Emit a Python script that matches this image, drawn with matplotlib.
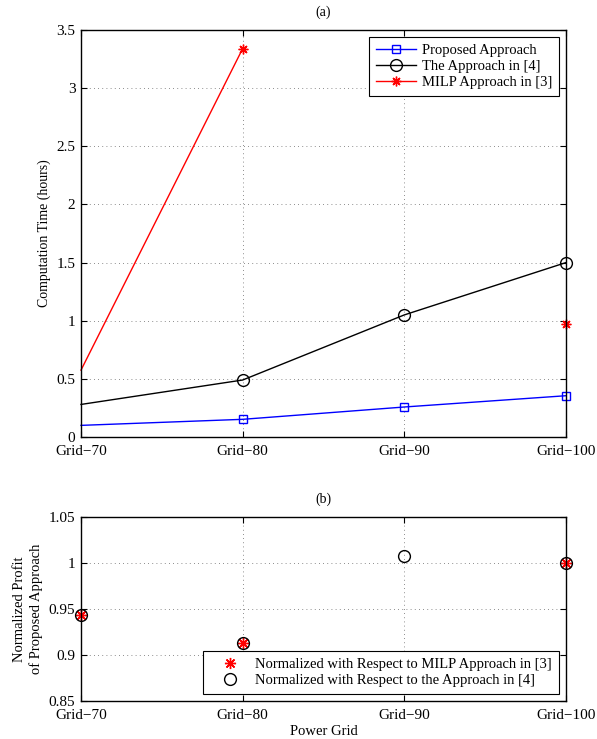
import numpy as np
import matplotlib.pyplot as plt

plt.rcParams['font.family'] = ['Liberation Serif', 'DejaVu Serif']
plt.rcParams['font.size'] = 10.5
plt.rcParams['axes.unicode_minus'] = True

grids = ['Grid\u221270', 'Grid\u221280', 'Grid\u221290', 'Grid\u2212100']
x = np.arange(len(grids))

# (a) computation time in hours
proposed = [0.10, 0.152, 0.258, 0.355]
approach4 = [0.28, 0.49, 1.05, 1.50]
milp = [0.575, 3.34, np.nan, 0.97]

# (b) normalized profit
norm_milp = [0.943, 0.913, np.nan, 1.0]
norm_app4 = [0.943, 0.913, 1.0075, 1.0]

star = (8, 2, 0)  # matlab style asterisk

fig = plt.figure(figsize=(5.97, 7.39), dpi=100)
ax = fig.add_axes([81 / 597, 1 - 437 / 739, 485 / 597, 407 / 739])
ax2 = fig.add_axes([81 / 597, 1 - 701 / 739, 485 / 597, 184 / 739])

skip = slice(1, None)
ax.plot(x, proposed, color='blue', lw=1, marker='s', ms=5.5, mfc='none',
        markevery=skip, label='Proposed Approach')
ax.plot(x, approach4, color='black', lw=1, marker='o', ms=8.5, mfc='none',
        markevery=skip, label='The Approach in [4]')
ax.plot(x, milp, color='red', lw=1, marker=star, ms=7, mew=1,
        markevery=skip, label='MILP Approach in [3]')

ax.set_xlim(0, 3)
ax.set_ylim(0, 3.5)
ax.set_xticks(x)
ax.set_xticklabels(grids)
ax.set_yticks(np.arange(0, 3.51, 0.5))
ax.set_yticklabels(['0', '0.5', '1', '1.5', '2', '2.5', '3', '3.5'])
ax.set_ylabel('Computation Time (hours)', fontsize=10)
ax.set_title('(a)', fontsize=10, pad=10)
leg_kw = dict(fancybox=False, edgecolor='black', framealpha=1, borderpad=0.45,
              labelspacing=0.2, handlelength=2.75, handletextpad=0.4,
              borderaxespad=0)
leg = ax.legend(loc='upper right', bbox_to_anchor=(0.985, 0.983), **leg_kw)
leg.get_frame().set_linewidth(0.8)

ax2.plot(x, norm_milp, ls='none', color='red', marker=star, ms=8, mew=1,
         label='Normalized with Respect to MILP Approach in [3]')
ax2.plot(x, norm_app4, ls='none', color='black', marker='o', ms=8.5, mfc='none',
         label='Normalized with Respect to the Approach in [4]')
ax2.set_xlim(0, 3)
ax2.set_ylim(0.85, 1.05)
ax2.set_xticks(x)
ax2.set_xticklabels(grids)
ax2.set_yticks([0.85, 0.9, 0.95, 1.0, 1.05])
ax2.set_yticklabels(['0.85', '0.9', '0.95', '1', '1.05'])
ax2.set_xlabel('Power Grid', labelpad=2)
ax2.set_ylabel('Normalized Profit\nof Proposed Approach', linespacing=1.35)
ax2.set_title('(b)', fontsize=10, pad=10)
leg2 = ax2.legend(loc='lower right', bbox_to_anchor=(0.985, 0.04), **leg_kw)
leg2.get_frame().set_linewidth(0.8)

for a in (ax, ax2):
    a.grid(True, ls=(0, (1, 4)), color='black', lw=0.6, alpha=0.6)
    a.tick_params(direction='in', top=True, right=True, length=4, labelsize=11)
    a.tick_params(axis='x', pad=6)
    a.tick_params(axis='y', pad=4)
    for s in a.spines.values():
        s.set_linewidth(1)
    for ln in a.lines:
        ln.set_clip_on(False)

fig.savefig('out.png', dpi=100)
